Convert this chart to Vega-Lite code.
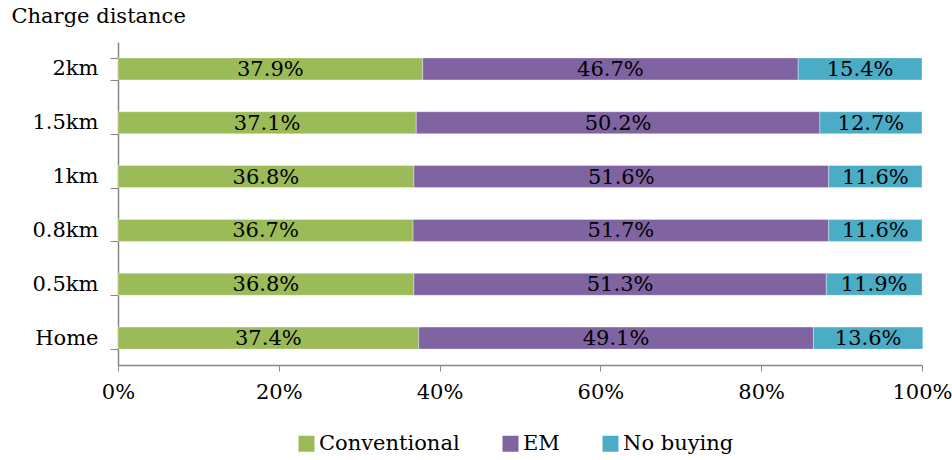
{
  "$schema": "https://vega.github.io/schema/vega-lite/v6.json",
  "width": 804,
  "height": 323,
  "autosize": {"type": "none"},
  "padding": {"left": 118, "top": 42, "right": 30, "bottom": 95},
  "background": "white",
  "config": {
    "font": "DejaVu Serif",
    "view": {"stroke": null},
    "axis": {
      "domainColor": "#868686",
      "tickColor": "#868686",
      "labelColor": "#000000",
      "titleColor": "#000000",
      "labelFont": "DejaVu Serif",
      "titleFont": "DejaVu Serif",
      "labelFontSize": 21,
      "titleFontSize": 21,
      "titleFontWeight": "normal",
      "grid": false
    }
  },
  "data": {
    "values": [
      {"distance": "2km", "type": "Conventional", "k": 1, "share": 37.9},
      {"distance": "2km", "type": "EM", "k": 2, "share": 46.7},
      {"distance": "2km", "type": "No buying", "k": 3, "share": 15.4},
      {"distance": "1.5km", "type": "Conventional", "k": 1, "share": 37.1},
      {"distance": "1.5km", "type": "EM", "k": 2, "share": 50.2},
      {"distance": "1.5km", "type": "No buying", "k": 3, "share": 12.7},
      {"distance": "1km", "type": "Conventional", "k": 1, "share": 36.8},
      {"distance": "1km", "type": "EM", "k": 2, "share": 51.6},
      {"distance": "1km", "type": "No buying", "k": 3, "share": 11.6},
      {"distance": "0.8km", "type": "Conventional", "k": 1, "share": 36.7},
      {"distance": "0.8km", "type": "EM", "k": 2, "share": 51.7},
      {"distance": "0.8km", "type": "No buying", "k": 3, "share": 11.6},
      {"distance": "0.5km", "type": "Conventional", "k": 1, "share": 36.8},
      {"distance": "0.5km", "type": "EM", "k": 2, "share": 51.3},
      {"distance": "0.5km", "type": "No buying", "k": 3, "share": 11.9},
      {"distance": "Home", "type": "Conventional", "k": 1, "share": 37.4},
      {"distance": "Home", "type": "EM", "k": 2, "share": 49.1},
      {"distance": "Home", "type": "No buying", "k": 3, "share": 13.6}
    ]
  },
  "transform": [
    {"stack": "share", "groupby": ["distance"], "sort": [{"field": "k", "order": "ascending"}], "as": ["x0", "x1"]},
    {"calculate": "(datum.x0 + datum.x1) / 2", "as": "mid"},
    {"calculate": "format(datum.share, '.1f') + '%'", "as": "label"}
  ],
  "encoding": {
    "y": {
      "field": "distance",
      "type": "nominal",
      "sort": ["2km", "1.5km", "1km", "0.8km", "0.5km", "Home"],
      "scale": {"paddingInner": 0.59, "paddingOuter": 0.295},
      "axis": {
        "title": "Charge distance",
        "titleAngle": 0,
        "titleAlign": "left",
        "titleBaseline": "top",
        "titleX": -107,
        "titleY": -37,
        "tickBand": "extent",
        "tickSize": 8,
        "labelPadding": 12,
        "domainWidth": 1.5
      }
    }
  },
  "layer": [
    {
      "mark": {"type": "bar", "stroke": "#ffffff", "strokeWidth": 0.6, "strokeOpacity": 0.6},
      "encoding": {
        "x": {
          "field": "x0",
          "type": "quantitative",
          "scale": {"domain": [0, 100], "nice": false},
          "axis": {
            "title": null,
            "values": [0, 20, 40, 60, 80, 100],
            "labelExpr": "datum.value + '%'",
            "labelFlush": false,
            "tickSize": 6,
            "labelPadding": 10,
            "domainWidth": 1.5
          }
        },
        "x2": {"field": "x1"},
        "color": {
          "field": "type",
          "type": "nominal",
          "sort": ["Conventional", "EM", "No buying"],
          "scale": {"domain": ["Conventional", "EM", "No buying"], "range": ["#9BBB59", "#8064A2", "#4BACC6"]},
          "legend": {
            "title": null,
            "orient": "none",
            "direction": "horizontal",
            "legendX": 178,
            "legendY": 391,
            "symbolType": "square",
            "symbolSize": 256,
            "symbolStrokeWidth": 0,
            "labelFont": "DejaVu Serif",
            "labelFontSize": 21,
            "labelColor": "#000000",
            "labelOffset": 2,
            "columnPadding": 40
          }
        }
      }
    },
    {
      "mark": {"type": "text", "font": "DejaVu Serif", "fontSize": 21, "color": "#000000", "baseline": "middle", "dy": 1},
      "encoding": {
        "x": {"field": "mid", "type": "quantitative"},
        "text": {"field": "label", "type": "nominal"}
      }
    }
  ]
}
